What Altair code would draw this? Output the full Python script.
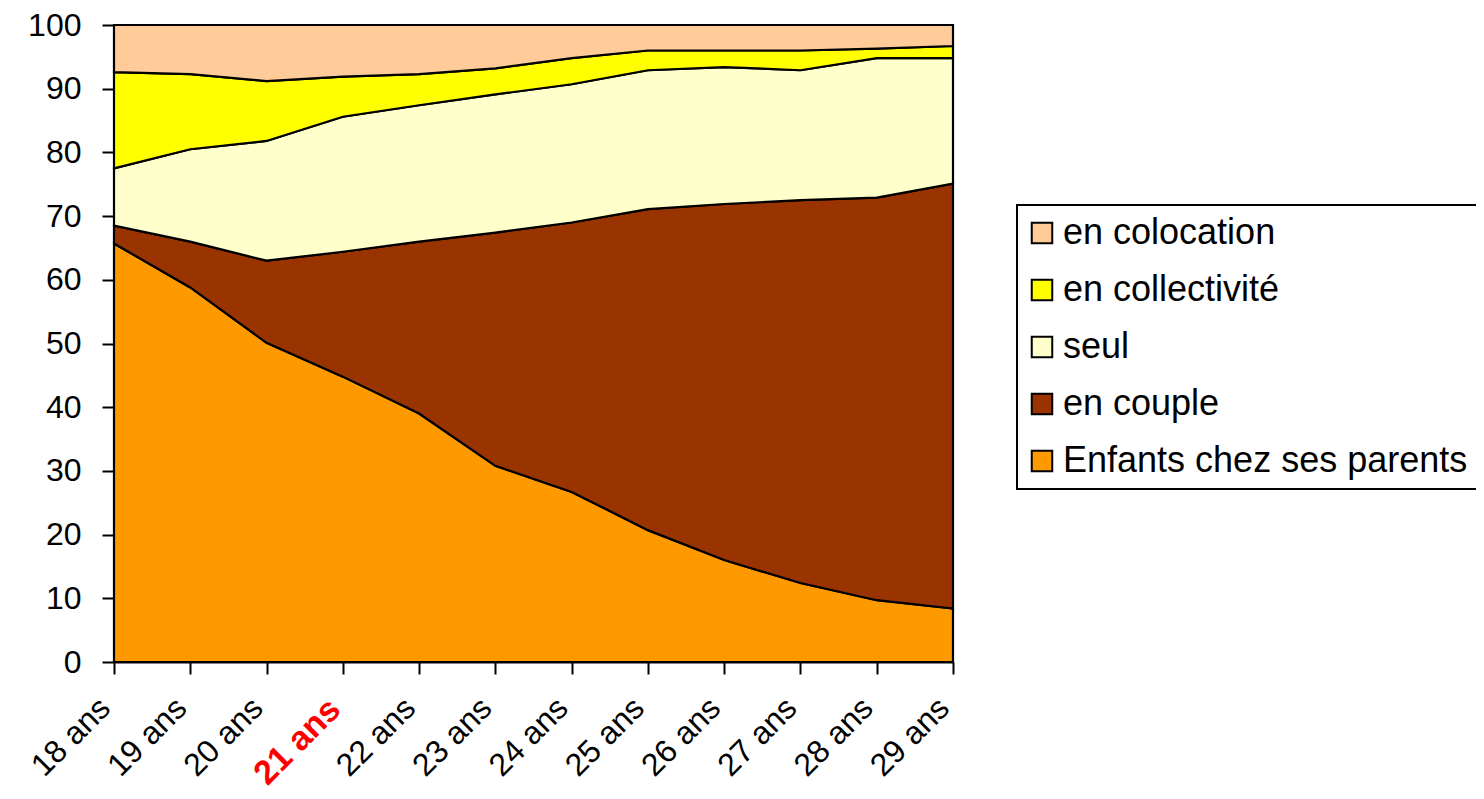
import altair as alt
import pandas as pd

ages = ["18 ans", "19 ans", "20 ans", "21 ans", "22 ans", "23 ans",
        "24 ans", "25 ans", "26 ans", "27 ans", "28 ans", "29 ans"]
enfants = [65.7, 58.8, 50.1, 44.8, 39.0, 30.8, 26.7, 20.7, 16.0, 12.4, 9.7, 8.4]
couple = [2.8, 7.2, 12.9, 19.6, 27.0, 36.6, 42.3, 50.4, 55.9, 60.1, 63.2, 66.7]
seul = [9.0, 14.5, 18.8, 21.2, 21.4, 21.7, 21.7, 21.8, 21.5, 20.4, 21.9, 19.7]
collectivite = [15.1, 11.8, 9.4, 6.3, 4.9, 4.1, 4.1, 3.1, 2.6, 3.1, 1.5, 1.9]
colocation = [7.4, 7.7, 8.8, 8.1, 7.7, 6.8, 5.2, 4.0, 4.0, 4.0, 3.7, 3.3]

series_names = ["Enfants chez ses parents", "en couple", "seul", "en collectivité", "en colocation"]
series_values = [enfants, couple, seul, collectivite, colocation]
legend_order = ["en colocation", "en collectivité", "seul", "en couple", "Enfants chez ses parents"]
legend_colors = ["#FFCC99", "#FFFF00", "#FFFFCC", "#993300", "#FF9900"]

rows = []
for rank, (name, vals) in enumerate(zip(series_names, series_values)):
    for age, v in zip(ages, vals):
        rows.append({"age": age, "serie": name, "valeur": v, "rang": rank})
df = pd.DataFrame(rows)

FONT = "Liberation Sans"

chart = alt.Chart(df).mark_area(
    stroke="black", strokeWidth=2.2, opacity=1, fillOpacity=1
).encode(
    x=alt.X("age:N", sort=ages,
            scale=alt.Scale(type="point", padding=0),
            axis=alt.Axis(
                title=None, labelAngle=-45, labelFont=FONT,
                labelFontSize={"expr": "datum.value === '21 ans' ? 34 : 32"},
                labelColor={"expr": "datum.value === '21 ans' ? '#FF0000' : '#000000'"},
                labelFontWeight={"expr": "datum.value === '21 ans' ? 'bold' : 'normal'"},
                labelPadding=18, labelOffset=-20, tickSize=12, tickColor="black", tickWidth=2,
                domainColor="black", domainWidth=2, grid=False, labelOverlap=False)),
    y=alt.Y("valeur:Q", stack="zero",
            scale=alt.Scale(domain=[0, 100], nice=False),
            axis=alt.Axis(title=None, values=list(range(0, 101, 10)),
                          labelFont=FONT, labelFontSize=32, labelColor="black",
                          labelPadding=21, tickSize=12, tickColor="black", tickWidth=2,
                          domainColor="black", domainWidth=2, grid=False)),
    color=alt.Color("serie:N",
                    scale=alt.Scale(domain=legend_order, range=legend_colors),
                    legend=alt.Legend(
                        title=None, orient="none", legendX=903, legendY=180,
                        symbolType="square", symbolSize=420, symbolOffset=-3,
                        symbolStrokeColor="black", symbolStrokeWidth=2,
                        labelFont=FONT, labelFontSize=36, labelColor="black",
                        labelLimit=600, labelOffset=3, rowPadding=21,
                        padding=10, strokeColor="black", fillColor="white")),
    order=alt.Order("rang:Q", sort="ascending"),
).properties(
    width=839, height=637,
    autosize=alt.AutoSizeParams(type="none"),
    padding={"left": 106, "top": 17, "right": 523, "bottom": 129},
).configure_view(stroke=None).configure_legend(strokeWidth=2)

chart.save("out.html", embed_options={"renderer": "svg", "actions": False})
